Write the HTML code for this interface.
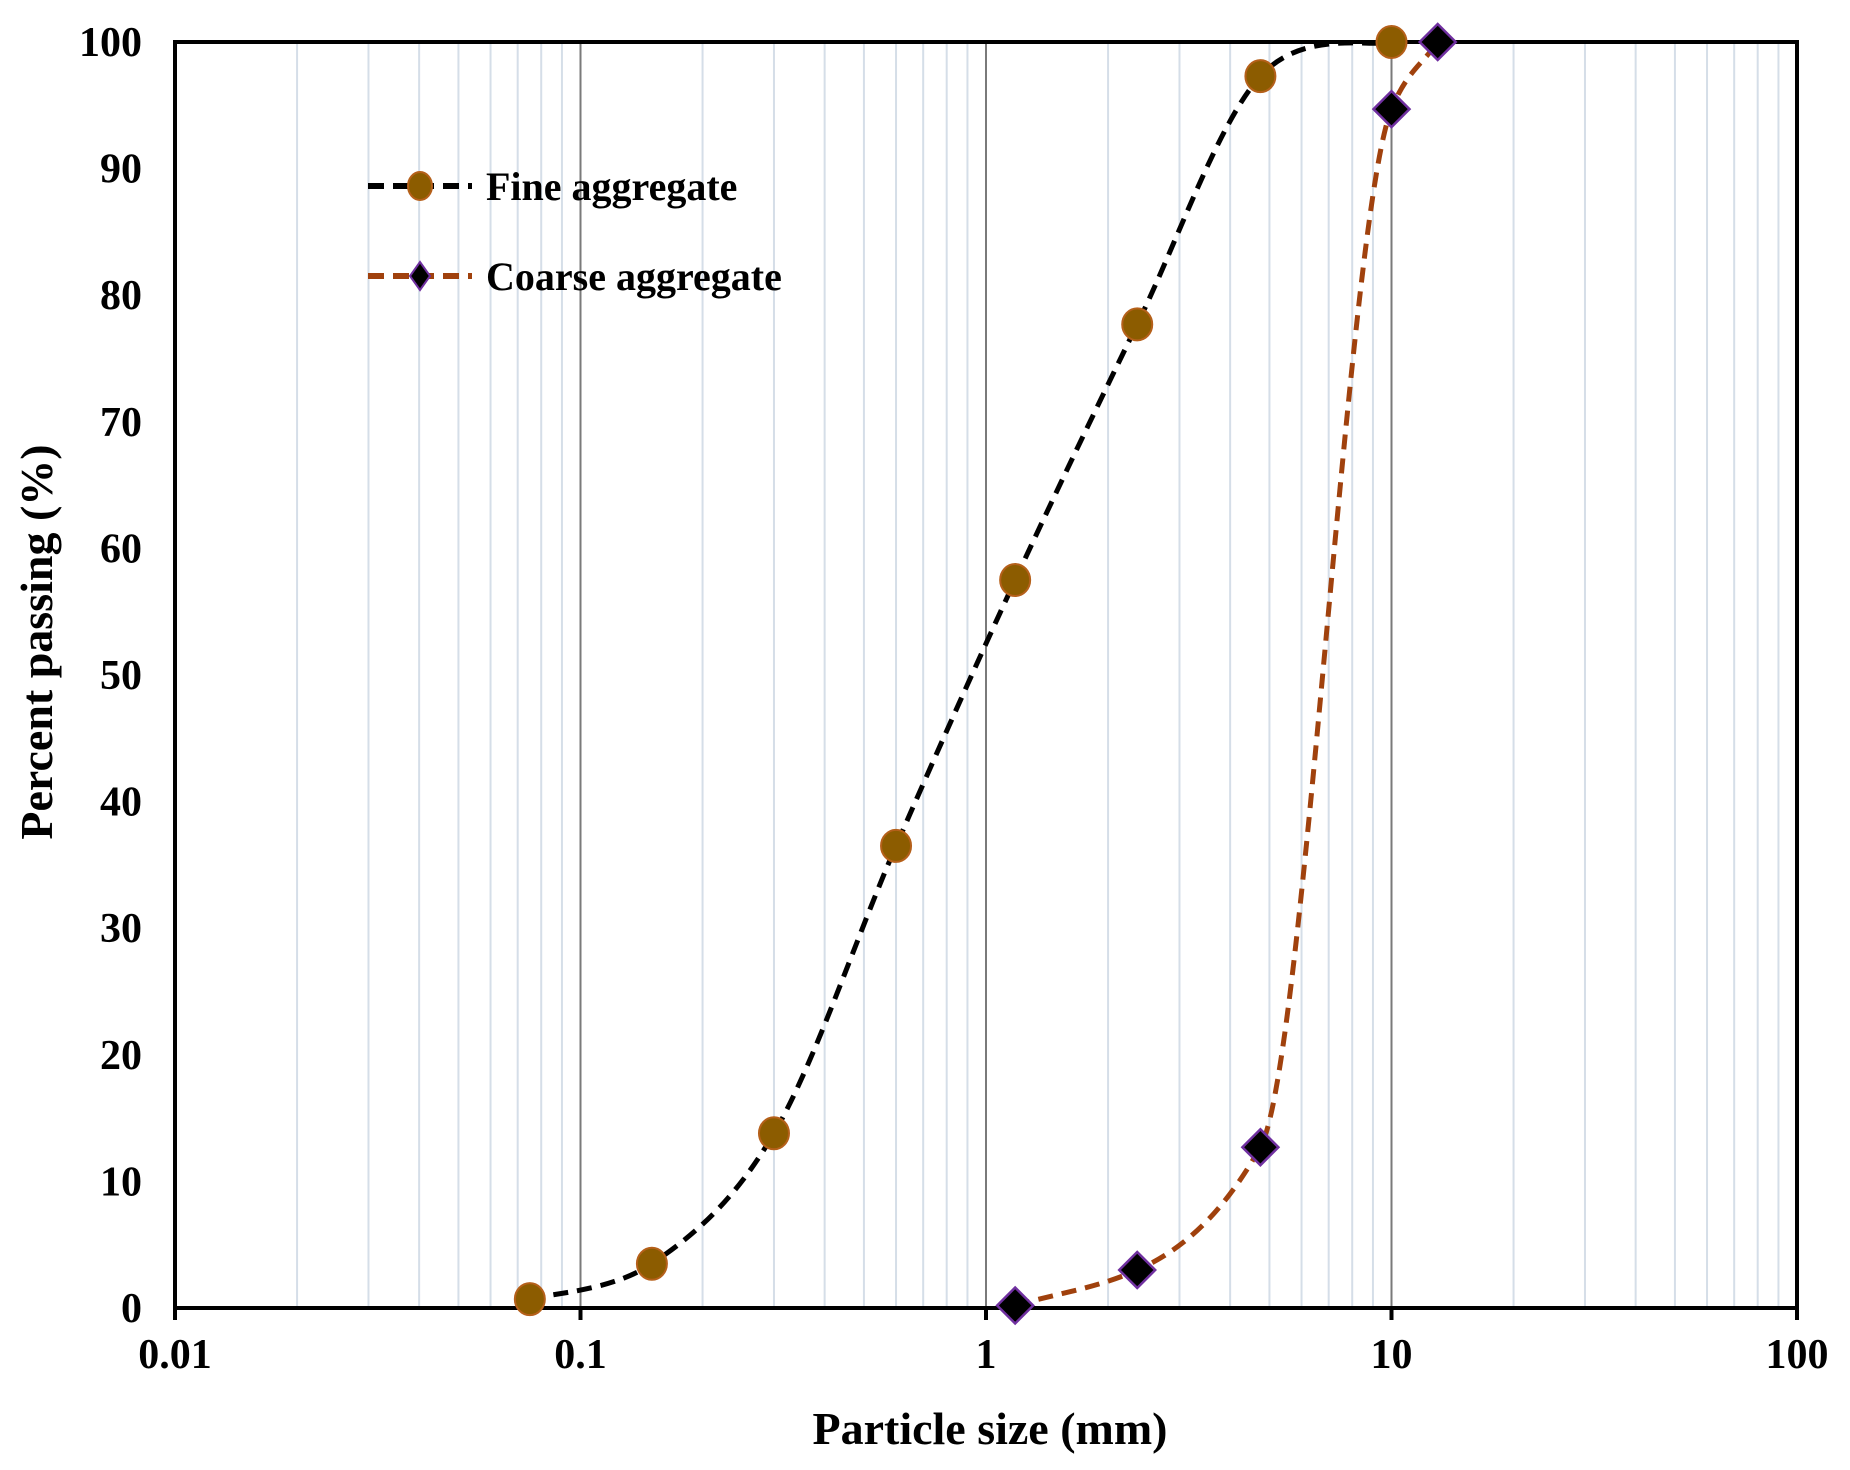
<!DOCTYPE html>
<html><head><meta charset="utf-8"><style>
html,body{margin:0;padding:0;background:#fff;}
svg{display:block;}
text{font-family:"Liberation Serif",serif;font-weight:bold;fill:#000;}
</style></head><body>
<svg id="s" width="1850" height="1470" viewBox="0 0 1850 1470" xmlns="http://www.w3.org/2000/svg">
<g id="grid"></g>
<path id="fine" fill="none" stroke="#000" stroke-width="5" stroke-dasharray="15,9"/>
<path id="coarse" fill="none" stroke="#a0410d" stroke-width="5" stroke-dasharray="15,9"/>
<rect x="175" y="42" width="1622" height="1266" fill="none" stroke="#000" stroke-width="4"/>
<g id="marks"></g>
<g id="labels" font-size="42"></g>
<line x1="368" y1="186" x2="472" y2="186" stroke="#000" stroke-width="6" stroke-dasharray="16,9"/>
<ellipse cx="420" cy="186" rx="12" ry="14" fill="#8c5c00" stroke="#b5601a" stroke-width="2"/>
<text x="486" y="200" font-size="40">Fine aggregate</text>
<line x1="368" y1="276" x2="472" y2="276" stroke="#a0410d" stroke-width="6" stroke-dasharray="16,9"/>
<polygon points="420,262 430,276 420,290 410,276" fill="#000" stroke="#7030a0" stroke-width="2"/>
<text x="486" y="290" font-size="40">Coarse aggregate</text>
<text x="990" y="1444" font-size="46" text-anchor="middle">Particle size (mm)</text>
<text transform="translate(52,642) rotate(-90)" font-size="46" text-anchor="middle">Percent passing (%)</text>
</svg>
<script>
var L=175,R=1797,T=42,B=1308,D=(R-L)/4;
function X(v){return L+(Math.log10(v)+2)*D;}
function Y(v){return B-(B-T)*v/100;}
var ns="http://www.w3.org/2000/svg";
function el(n,a,p){var e=document.createElementNS(ns,n);for(var k in a)e.setAttribute(k,a[k]);document.getElementById(p).appendChild(e);return e;}
for(var d=-2;d<2;d++){for(var m=1;m<=9;m++){var v=m*Math.pow(10,d);var x=X(v);if(m==1){if(d>-2)el("line",{x1:x,y1:T,x2:x,y2:B,stroke:"#7a7a7a","stroke-width":2},"grid");}else el("line",{x1:x,y1:T,x2:x,y2:B,stroke:"#d5dee8","stroke-width":2},"grid");}}
var lbl=["0.01","0.1","1","10","100"];
for(var i=0;i<5;i++){var x=L+i*D;el("line",{x1:x,y1:B,x2:x,y2:B+12,stroke:"#000","stroke-width":4},"grid");var t=el("text",{x:x,y:1368,"text-anchor":"middle"},"labels");t.textContent=lbl[i];}
for(var v=0;v<=100;v+=10){var t=el("text",{x:142,y:Y(v)+14,"text-anchor":"end"},"labels");t.textContent=v;}
function path(pts){var P=pts.map(function(p){return [X(p[0]),Y(p[1])];});var s="M"+P[0][0]+","+P[0][1];
for(var i=0;i<P.length-1;i++){var p0=P[Math.max(0,i-1)],p1=P[i],p2=P[i+1],p3=P[Math.min(P.length-1,i+2)];var k=1/6;
s+=" C"+(p1[0]+(p2[0]-p0[0])*k)+","+(p1[1]+(p2[1]-p0[1])*k)+" "+(p2[0]-(p3[0]-p1[0])*k)+","+(p2[1]-(p3[1]-p1[1])*k)+" "+p2[0]+","+p2[1];}return s;}
function mono(pts){var P=pts.map(function(p){return [X(p[0]),Y(p[1])];});var n=P.length,dl=[],m=[];
for(var i=0;i<n-1;i++)dl.push((P[i+1][1]-P[i][1])/(P[i+1][0]-P[i][0]));
m[0]=dl[0];m[n-1]=dl[n-2];
for(var i=1;i<n-1;i++){m[i]=(dl[i-1]*dl[i]<=0)?0:2/(1/dl[i-1]+1/dl[i]);}
var s="M"+P[0][0]+","+P[0][1];
for(var i=0;i<n-1;i++){var h=(P[i+1][0]-P[i][0])/3;s+=" C"+(P[i][0]+h)+","+(P[i][1]+m[i]*h)+" "+(P[i+1][0]-h)+","+(P[i+1][1]-m[i+1]*h)+" "+P[i+1][0]+","+P[i+1][1];}return s;}
var fine=[[0.075,0.7],[0.15,3.5],[0.3,13.8],[0.6,36.5],[1.18,57.5],[2.36,77.7],[4.75,97.3],[10,100]];
var coarse=[[1.18,0.2],[2.36,3],[4.75,12.7],[10,94.7],[13,100]];
document.getElementById("fine").setAttribute("d",path(fine));
document.getElementById("coarse").setAttribute("d",mono(coarse));
fine.forEach(function(p){el("ellipse",{cx:X(p[0]),cy:Y(p[1]),rx:15,ry:16,fill:"#8c5c00",stroke:"#b5601a","stroke-width":2},"marks");});
coarse.forEach(function(p){var x=X(p[0]),y=Y(p[1]);el("polygon",{points:x+","+(y-18)+" "+(x+18)+","+y+" "+x+","+(y+18)+" "+(x-18)+","+y,fill:"#000",stroke:"#7030a0","stroke-width":2.5},"marks");});
</script>
</body></html>
